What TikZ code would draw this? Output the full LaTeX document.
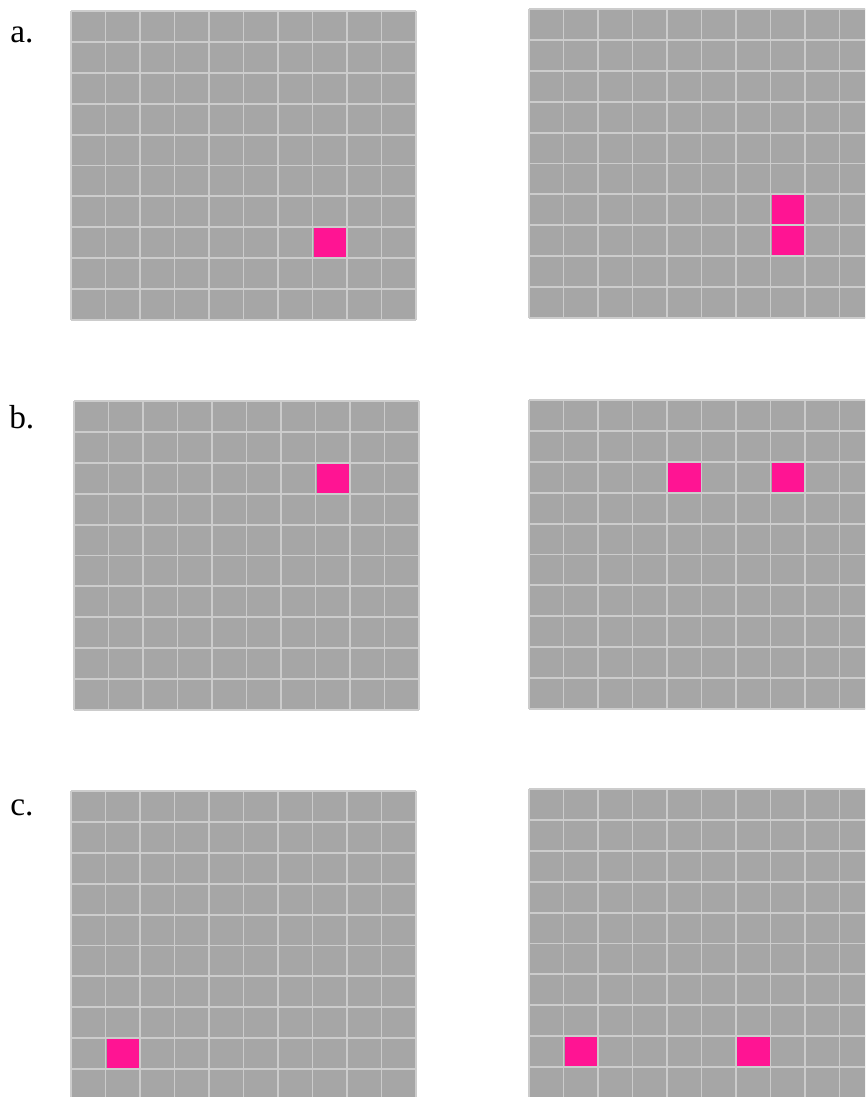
\documentclass[tikz,border=0pt]{standalone}
\usepackage{fontspec}
\setmainfont{Liberation Serif}
\definecolor{cellgray}{RGB}{166,166,166}
\definecolor{linegray}{RGB}{204,204,204}
\definecolor{hotpink}{RGB}{255,20,147}
% one 10x10 board, corner given top left
\newcommand{\board}[2]{%
  \fill[cellgray] (#1,#2) rectangle ++(345,309);
  \foreach \i in {0,...,10} {
    \draw[gridline] ({#1+34.5*\i},#2) -- ++(0,309);
    \draw[gridline] (#1,{#2+30.9*\i}) -- ++(345,0);
  }}
% a lit cell: corner of board, column, row
\newcommand{\litcell}[4]{%
  \fill[hotpink] ({#1+34.5*#3+1},{#2+30.9*#4+1}) rectangle ++(32.5,28.9);}

\begin{document}
\begin{tikzpicture}[x=0.75pt,y=-0.75pt,
    gridline/.style={linegray,line width=1.4pt},
    tag/.style={font=\fontsize{25}{30}\selectfont,anchor=base west,inner sep=0pt}]
  \useasboundingbox (0,0) rectangle (865,1097);
  \clip (0,0) rectangle (865,1097);
  % row a
  \node[tag] (taga) at (10,42) {a.};
  \board{71}{11}
  \litcell{71}{11}{7}{7}
  \board{529}{9}
  \litcell{529}{9}{7}{6}
  \litcell{529}{9}{7}{7}
  % row b
  \node[tag] (tagb) at (9,428) {b.};
  \board{74}{401}
  \litcell{74}{401}{7}{2}
  \board{529}{400}
  \litcell{529}{400}{4}{2}
  \litcell{529}{400}{7}{2}
  % row c
  \node[tag] (tagc) at (10,815) {c.};
  \board{71}{791}
  \litcell{71}{791}{1}{8}
  \board{529}{789}
  \litcell{529}{789}{1}{8}
  \litcell{529}{789}{6}{8}
\end{tikzpicture}
\end{document}
